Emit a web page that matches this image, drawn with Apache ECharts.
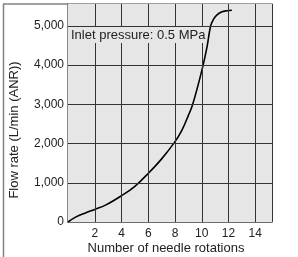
<!DOCTYPE html>
<html>
<head>
<meta charset="utf-8">
<script src="https://cdn.jsdelivr.net/npm/echarts@6/dist/echarts.min.js"></script>
<style>
  html, body { margin: 0; padding: 0; background: #fff; }
  #chart { width: 298px; height: 257px; }
</style>
</head>
<body>
<div id="chart"></div>
<script>
// needle rotations vs flow rate (L/min ANR)
var rotations = [0, 0.6, 1.3, 2, 2.8, 4, 5, 6, 7, 8, 8.5, 9, 9.3, 9.7, 10.1, 10.4, 10.66, 10.86, 11.1, 11.5, 11.9, 12.25];
var flowRate = [0, 130, 230, 320, 430, 670, 910, 1240, 1610, 2050, 2330, 2720, 2980, 3460, 4000, 4480, 5000, 5160, 5270, 5360, 5390, 5400];
var xTicks = [2, 4, 6, 8, 10, 12, 14];
var yTicks = [0, 1000, 2000, 3000, 4000, 5000];
var xRange = [0, 15.25];
var yRange = [0, 5560];
var noteText = 'Inlet pressure: 0.5 MPa';

var chart = echarts.init(document.getElementById('chart'));

var fontFamily = '"Liberation Sans", Arial, sans-serif';
var textColor = '#222';
var plotBg = '#e6e6e6';
var borderColor = '#808080';

// grid lines drawn as mark lines on the curve's axes
var gridLines = [];
xTicks.forEach(function (x) {
  gridLines.push([{ coord: [x, yRange[0]] }, { coord: [x, yRange[1]] }]);
});
yTicks.slice(1).forEach(function (y) {
  gridLines.push([{ coord: [xRange[0], y] }, { coord: [xRange[1], y] }]);
});

chart.setOption({
  animation: false,
  grid: {
    left: 68,
    right: 26,
    top: 4,
    bottom: 35,
    show: true,
    backgroundColor: plotBg,
    borderColor: borderColor,
    borderWidth: 1.5
  },
  xAxis: {
    type: 'value',
    min: xRange[0],
    max: xRange[1],
    interval: 2,
    axisLine: { show: true, lineStyle: { color: borderColor, width: 1.5 } },
    axisTick: { show: false },
    axisLabel: {
      margin: 6,
      color: textColor,
      fontSize: 12,
      fontFamily: fontFamily,
      formatter: function (v) {
        return xTicks.indexOf(v) >= 0 ? String(v) : '';
      }
    },
    splitLine: { show: true, lineStyle: { color: '#333', width: 1 } }
  },
  yAxis: {
    type: 'value',
    min: yRange[0],
    max: yRange[1],
    interval: 1000,
    axisLine: { show: true, lineStyle: { color: borderColor, width: 1.5 } },
    axisTick: { show: false },
    axisLabel: {
      margin: 4,
      color: textColor,
      fontSize: 12,
      fontFamily: fontFamily,
      formatter: function (v) {
        return yTicks.indexOf(v) >= 0 ? v.toLocaleString('en-US') : '';
      }
    },
    splitLine: { show: true, lineStyle: { color: '#333', width: 1 } }
  },
  graphic: [
    // page frame (left and top)
    { type: 'line', z: 5, shape: { x1: 3.5, y1: 4, x2: 3.5, y2: 257 }, style: { stroke: borderColor, lineWidth: 1.5 } },
    { type: 'line', z: 5, shape: { x1: 3, y1: 4, x2: 68, y2: 4 }, style: { stroke: borderColor, lineWidth: 1.5 } },
    // note box covering the grid
    { type: 'rect', z: 6, shape: { x: 69, y: 27, width: 137, height: 16 }, style: { fill: plotBg } },
    {
      type: 'text', z: 7, x: 71, y: 35,
      style: { text: noteText, fill: textColor, font: '13px ' + fontFamily, verticalAlign: 'middle' }
    },
    // axis names
    {
      type: 'text', z: 3, x: 166, y: 248,
      style: { text: 'Number of needle rotations', fill: textColor, font: '13px ' + fontFamily, align: 'center', verticalAlign: 'middle' }
    },
    {
      type: 'text', z: 3, x: 14, y: 130, rotation: Math.PI / 2,
      style: { text: 'Flow rate (L/min (ANR))', fill: textColor, font: '13px ' + fontFamily, align: 'center', verticalAlign: 'middle' }
    }
  ],
  series: [
    {
      type: 'line',
      data: rotations.map(function (x, i) { return [x, flowRate[i]]; }),
      smooth: 0.4,
      showSymbol: false,
      lineStyle: { color: '#000', width: 1.6 },
      markArea: {
        silent: true,
        itemStyle: { color: plotBg },
        data: [[{ coord: [xRange[0], yRange[0]] }, { coord: [xRange[1], yRange[1]] }]]
      },
      markLine: {
        silent: true,
        symbol: 'none',
        label: { show: false },
        lineStyle: { color: '#333', width: 1, type: 'solid' },
        data: gridLines
      }
    }
  ]
});
</script>
</body>
</html>
